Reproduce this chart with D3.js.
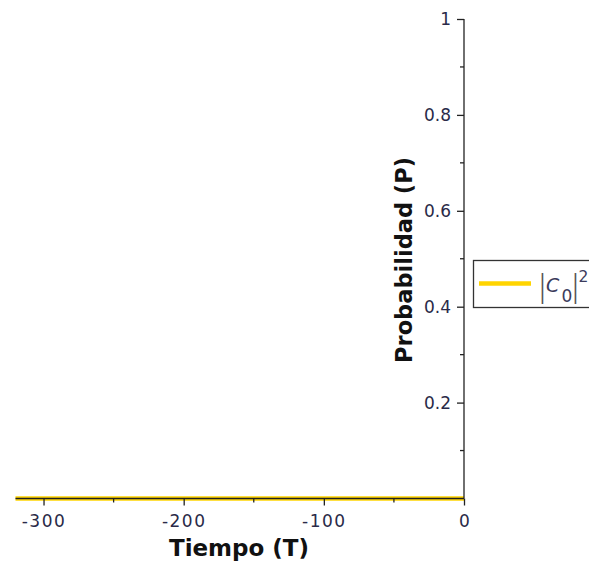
<!DOCTYPE html>
<html><head><meta charset="utf-8">
<script src="https://cdn.jsdelivr.net/npm/d3@7"></script>
<style>body{margin:0;background:#fff}svg{display:block}</style>
</head><body>
<script>
const tiempo = [-320,-300,-280,-260,-240,-220,-200,-180,-160,-140,-120,-100,-80,-60,-40,-20,0];
const probC0 = [0,0,0,0,0,0,0,0,0,0,0,0,0,0,0,0,0];
const xTicks = [-300,-200,-100,0];
const xMinor = [-250,-150,-50];
const yTicks = [0.2,0.4,0.6,0.8,1];
const yTickLabels = ["0.2","0.4","0.6","0.8","1"];
const yMinor = [0.1,0.3,0.5,0.7,0.9];

const W=589,H=563;
const svg=d3.select("body").append("svg").attr("width",W).attr("height",H);
const x=d3.scaleLinear().domain([-320,0]).range([15.5,464]);
const y=d3.scaleLinear().domain([0,1]).range([498.5,19]);
const tc="#2a2a48";
const ax="#222";

// data line
svg.append("path").datum(tiempo.map((t,i)=>[t,probC0[i]]))
 .attr("d",d3.line().x(d=>x(d[0])).y(d=>y(d[1])))
 .attr("fill","none").attr("stroke","#FFD400").attr("stroke-width",4.5);

// x axis
const gx=svg.append("g").attr("transform",`translate(0,${y(0)})`);
gx.call(d3.axisBottom(x).tickValues(xTicks).tickSize(7).tickFormat(d=>d===0?"0":"-"+Math.abs(d)));
gx.select(".domain").attr("stroke",ax).attr("stroke-width",1.3).attr("d",`M${x(-320)},0H${x(0)}`);
gx.selectAll(".tick line").attr("stroke",ax).attr("stroke-width",1.3);
gx.selectAll(".tick text").attr("fill",tc).attr("y",16.5).attr("dy","0.71em")
 .style("font-family","'DejaVu Sans',sans-serif").style("font-size","17px")
 .style("letter-spacing",d=>d===0?"0px":"1.5px");
gx.selectAll(".minor").data(xMinor).enter().append("line").attr("class","minor")
 .attr("x1",d=>x(d)).attr("x2",d=>x(d)).attr("y1",0).attr("y2",4).attr("stroke",ax).attr("stroke-width",1.3);

// y axis
const gy=svg.append("g").attr("transform",`translate(${x(0)},0)`);
gy.call(d3.axisLeft(y).tickValues(yTicks).tickSize(7).tickFormat((d,i)=>yTickLabels[i]).tickPadding(6));
gy.select(".domain").attr("stroke",ax).attr("stroke-width",1.3).attr("d",`M0,${y(0)}V${y(1)}`);
gy.selectAll(".tick line").attr("stroke",ax).attr("stroke-width",1.3);
gy.selectAll(".tick text").attr("fill",tc).style("font-family","'DejaVu Sans',sans-serif").style("font-size","17px");
gy.selectAll(".minor").data(yMinor).enter().append("line").attr("class","minor")
 .attr("x1",0).attr("x2",-4).attr("y1",d=>y(d)).attr("y2",d=>y(d)).attr("stroke",ax).attr("stroke-width",1.3);

// axis titles
svg.append("text").attr("x",239).attr("y",556).attr("text-anchor","middle")
 .style("font-family","'DejaVu Sans',sans-serif").style("font-weight","bold").style("font-size","23px")
 .attr("fill","#111").text("Tiempo (T)");
svg.append("text").attr("transform","translate(412,260) rotate(-90)").attr("text-anchor","middle")
 .style("font-family","'DejaVu Sans',sans-serif").style("font-weight","bold").style("font-size","22.5px")
 .attr("fill","#111").text("Probabilidad (P)");

// legend
const lg=svg.append("g");
lg.append("rect").attr("x",473.5).attr("y",260.5).attr("width",130).attr("height",47).attr("fill","#fff").attr("stroke","#333").attr("stroke-width",1.3);
lg.append("line").attr("x1",479).attr("x2",531).attr("y1",283.5).attr("y2",283.5).attr("stroke","#FFD400").attr("stroke-width",4.5);
const lc="#3c3c5c";
const bar=(bx)=>lg.append("text").attr("transform",`translate(${bx},297) scale(0.55,1)`)
 .attr("text-anchor","middle").attr("fill","#555").style("font-family","'Liberation Sans',sans-serif").style("font-size","34px").text("|");
bar(542.5);
lg.append("text").attr("x",546).attr("y",292).attr("fill",lc)
 .style("font-family","'DejaVu Sans',sans-serif").style("font-style","italic").style("font-size","19px").text("C");
lg.append("text").attr("x",561.5).attr("y",302).attr("fill",lc)
 .style("font-family","'DejaVu Sans',sans-serif").style("font-size","17px").text("0");
bar(575.5);
lg.append("text").attr("x",578.5).attr("y",282).attr("fill",lc)
 .style("font-family","'DejaVu Sans',sans-serif").style("font-size","15.5px").text("2");
</script>
</body></html>
